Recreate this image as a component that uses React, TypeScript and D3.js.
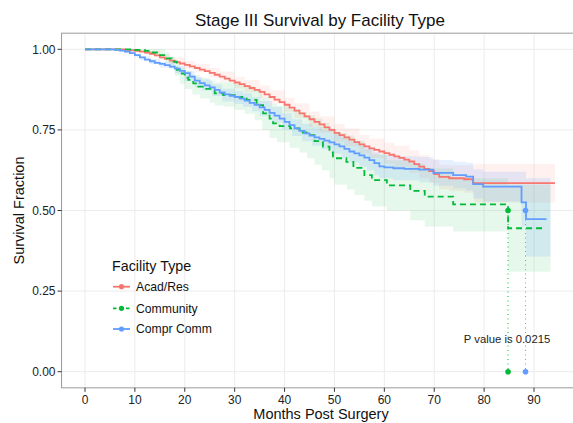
import React from "react";
import * as d3 from "d3";

const title = "Stage III Survival by Facility Type";
const xLabel = "Months Post Surgery";
const yLabel = "Survival Fraction";
const legendTitle = "Facility Type";
const groups = ["Acad/Res", "Community", "Compr Comm"];
const colors = ["#F8766D", "#00BA38", "#619CFF"];
const xTicks = [0, 10, 20, 30, 40, 50, 60, 70, 80, 90];
const yTicks = [0, 0.25, 0.5, 0.75, 1];
const pValueText = "P value is 0.0215";

// Acad/Res survival curve
const acadTime = [0, 6, 8, 9, 10, 11, 12, 13, 14, 15, 16, 17, 18, 19, 20, 21, 22, 23, 24, 25, 26, 27, 28, 29, 30, 31, 32, 33, 34, 35, 36, 37, 38, 39, 40, 41, 42, 43, 44, 45, 46, 47, 48, 49, 50, 51, 52, 53, 54, 55, 56, 57, 58, 59, 60, 61, 62, 63, 64, 65, 66, 67, 68, 69, 70, 71, 73, 76, 77.8];
const acadSurv = [1, 1, 0.998, 0.997, 0.995, 0.993, 0.99, 0.986, 0.981, 0.975, 0.97, 0.965, 0.96, 0.956, 0.952, 0.947, 0.942, 0.937, 0.932, 0.927, 0.921, 0.915, 0.909, 0.903, 0.897, 0.892, 0.886, 0.88, 0.874, 0.868, 0.86, 0.852, 0.844, 0.836, 0.828, 0.819, 0.81, 0.801, 0.792, 0.783, 0.775, 0.767, 0.758, 0.75, 0.741, 0.734, 0.727, 0.72, 0.712, 0.705, 0.699, 0.693, 0.688, 0.683, 0.678, 0.673, 0.668, 0.663, 0.658, 0.652, 0.644, 0.636, 0.629, 0.622, 0.613, 0.604, 0.6, 0.597, 0.585];
const acadEnd = 94.2;
// Acad/Res confidence band
const acadBandTime = [0, 5, 8, 10, 12, 15, 17, 20, 22, 25, 27, 30, 32, 35, 37, 40, 42, 45, 47, 50, 52, 55, 57, 60, 62, 65, 67, 69, 71, 73, 76, 78];
const acadLo = [1, 1, 0.996, 0.992, 0.985, 0.967, 0.955, 0.94, 0.929, 0.912, 0.899, 0.879, 0.867, 0.848, 0.831, 0.806, 0.787, 0.759, 0.742, 0.714, 0.699, 0.676, 0.663, 0.646, 0.635, 0.617, 0.6, 0.585, 0.566, 0.56, 0.555, 0.525];
const acadHi = [1, 1, 1, 0.998, 0.995, 0.983, 0.975, 0.964, 0.955, 0.942, 0.931, 0.915, 0.905, 0.888, 0.873, 0.85, 0.833, 0.807, 0.792, 0.768, 0.755, 0.734, 0.723, 0.71, 0.701, 0.687, 0.672, 0.66, 0.642, 0.64, 0.64, 0.645];
const acadBandEnd = 94.2;

// Community survival curve
const commTime = [0, 8, 10, 12, 13.4, 15, 16.4, 17.4, 18.4, 19, 20, 20.7, 21.7, 22.7, 24, 26, 27.7, 30, 32.4, 34.4, 35.7, 37, 37.7, 39, 41.1, 43, 44.4, 46, 47.7, 49, 49.7, 52.4, 53.8, 56, 57.5, 60.5, 65.2, 68.1, 73.8, 84.8];
const commSurv = [1, 1, 0.998, 0.995, 0.99, 0.982, 0.972, 0.962, 0.936, 0.925, 0.912, 0.905, 0.894, 0.884, 0.877, 0.863, 0.858, 0.852, 0.843, 0.827, 0.801, 0.785, 0.77, 0.762, 0.755, 0.742, 0.734, 0.715, 0.698, 0.68, 0.662, 0.651, 0.632, 0.61, 0.594, 0.578, 0.561, 0.543, 0.519, 0.445];
const commEnd = 91.8;
// Community confidence band
const commBandTime = [0, 8, 10, 12, 14, 16, 17, 18, 19, 20, 21.5, 23, 25, 26, 28, 30, 32, 34, 35.5, 37, 38.5, 41, 43, 44.5, 46, 47.5, 49, 50, 52.5, 54, 56, 57.5, 60.5, 65.2, 68.1, 73.8, 84.8];
const commLo = [1, 1, 0.993, 0.987, 0.978, 0.958, 0.94, 0.918, 0.893, 0.877, 0.86, 0.848, 0.834, 0.826, 0.822, 0.812, 0.8, 0.78, 0.75, 0.725, 0.712, 0.695, 0.68, 0.662, 0.642, 0.625, 0.6, 0.58, 0.565, 0.548, 0.53, 0.513, 0.5, 0.47, 0.45, 0.435, 0.31];
const commHi = [1, 1, 1, 1, 1, 0.99, 0.978, 0.962, 0.943, 0.933, 0.92, 0.912, 0.902, 0.898, 0.898, 0.892, 0.886, 0.872, 0.85, 0.831, 0.824, 0.815, 0.804, 0.795, 0.785, 0.772, 0.755, 0.74, 0.733, 0.716, 0.69, 0.675, 0.656, 0.645, 0.63, 0.6, 0.58];
const commBandEnd = 93.3;

// Compr Comm survival curve
const comprTime = [0, 6, 7, 8, 9, 10, 11, 12, 13, 14, 15, 16, 17, 18, 19, 20, 21, 22, 23, 24, 25, 26, 27, 28, 29, 30, 31, 32, 33, 34, 35, 36, 37, 38, 39, 40, 41, 42, 43, 44, 45, 46, 47, 48, 49, 50, 51, 52, 53, 54, 55, 56, 57, 58, 59, 60, 61.8, 64, 67, 69.8, 73.8, 76.4, 77.8, 79.8, 87.5, 88.4];
const comprSurv = [1, 0.998, 0.996, 0.993, 0.988, 0.982, 0.975, 0.968, 0.963, 0.958, 0.955, 0.951, 0.946, 0.94, 0.933, 0.926, 0.915, 0.903, 0.895, 0.888, 0.882, 0.874, 0.866, 0.86, 0.856, 0.852, 0.847, 0.841, 0.834, 0.828, 0.82, 0.812, 0.803, 0.794, 0.785, 0.775, 0.765, 0.755, 0.747, 0.739, 0.732, 0.727, 0.722, 0.717, 0.711, 0.705, 0.699, 0.691, 0.683, 0.677, 0.671, 0.664, 0.656, 0.647, 0.637, 0.634, 0.631, 0.629, 0.627, 0.617, 0.61, 0.605, 0.582, 0.574, 0.525, 0.473];
const comprEnd = 92.5;
// Compr Comm confidence band
const comprBandTime = [0, 6, 8, 10, 11, 13, 15, 18, 20, 22, 23.5, 25.5, 27.5, 30, 31.7, 33.5, 35, 37.5, 39.5, 41.5, 43.5, 45.5, 47.5, 49.5, 51.5, 53, 55, 56.5, 58, 59, 61.8, 67, 69.8, 73.8, 76.4, 77.8, 79.8, 87.5, 88.4];
const comprLo = [1, 0.996, 0.989, 0.975, 0.966, 0.954, 0.943, 0.925, 0.902, 0.882, 0.872, 0.855, 0.838, 0.83, 0.822, 0.808, 0.794, 0.773, 0.751, 0.731, 0.715, 0.701, 0.69, 0.677, 0.663, 0.649, 0.636, 0.625, 0.609, 0.6, 0.594, 0.588, 0.577, 0.569, 0.562, 0.537, 0.528, 0.45, 0.357];
const comprHi = [1, 1, 0.997, 0.985, 0.978, 0.97, 0.961, 0.949, 0.932, 0.914, 0.906, 0.891, 0.878, 0.87, 0.864, 0.852, 0.84, 0.821, 0.801, 0.783, 0.769, 0.759, 0.75, 0.739, 0.727, 0.715, 0.704, 0.695, 0.681, 0.672, 0.668, 0.666, 0.657, 0.651, 0.648, 0.627, 0.62, 0.62, 0.6];
const comprBandEnd = 93.3;

const medianTimes = [84.8, 88.3];
const medianGroup = [1, 2];

type LPt = { t: number; s: number };
type BPt = { t: number; lo: number; hi: number };

function buildLine(time: number[], surv: number[], end: number): LPt[] {
  const pts = time.map((t, i) => ({ t, s: surv[i] }));
  pts.push({ t: end, s: surv[surv.length - 1] });
  return pts;
}
function buildBand(time: number[], lo: number[], hi: number[], end: number): BPt[] {
  const pts = time.map((t, i) => ({ t, lo: lo[i], hi: hi[i] }));
  pts.push({ t: end, lo: lo[lo.length - 1], hi: hi[hi.length - 1] });
  return pts;
}

export default function App() {
  const W = 573;
  const H = 423;
  const x = d3.scaleLinear().domain([0, 90]).range([85, 534]);
  const y = d3.scaleLinear().domain([0, 1]).range([371.7, 49.3]);
  const pl = x(-4.7);
  const pr = x(98.9);
  const pt = y(1.05);
  const pb = y(-0.05);

  const series = [
    { line: buildLine(acadTime, acadSurv, acadEnd), band: buildBand(acadBandTime, acadLo, acadHi, acadBandEnd) },
    { line: buildLine(commTime, commSurv, commEnd), band: buildBand(commBandTime, commLo, commHi, commBandEnd) },
    { line: buildLine(comprTime, comprSurv, comprEnd), band: buildBand(comprBandTime, comprLo, comprHi, comprBandEnd) },
  ];

  const line = d3
    .line<LPt>()
    .x((d) => x(d.t))
    .y((d) => y(d.s))
    .curve(d3.curveStepAfter);
  const area = d3
    .area<BPt>()
    .x((d) => x(d.t))
    .y0((d) => y(d.lo))
    .y1((d) => y(d.hi))
    .curve(d3.curveStepAfter);

  const font = "'Liberation Sans', Arial, Helvetica, sans-serif";
  const bandOpacity = [0.1, 0.1, 0.15];
  const dash = [null, "6,4", null];

  return (
    <svg width={W} height={H} style={{ position: "fixed", left: 0, top: 0, background: "#fff" }} fontFamily={font}>
      <rect x={0} y={0} width={W} height={H} fill="#fff" />
      <text x={320} y={26} textAnchor="middle" fontSize={17} fill="#111">
        {title}
      </text>
      {/* grid */}
      <g stroke="#ececec" strokeWidth={1}>
        {xTicks.map((t) => (
          <line key={"gx" + t} x1={x(t)} x2={x(t)} y1={pt} y2={pb} />
        ))}
        {yTicks.map((t) => (
          <line key={"gy" + t} x1={pl} x2={pr} y1={y(t)} y2={y(t)} />
        ))}
      </g>
      {/* bands */}
      {series.map((s, i) => (
        <path key={"b" + i} d={area(s.band) || ""} fill={colors[i]} opacity={bandOpacity[i]} />
      ))}
      {/* median lines */}
      {medianTimes.map((m, i) => (
        <line key={"m" + i} x1={x(m)} x2={x(m)} y1={y(0.5)} y2={y(0)} stroke={colors[medianGroup[i]]} strokeWidth={1} strokeDasharray="1,3.5" />
      ))}
      {/* lines */}
      {series.map((s, i) => (
        <path
          key={"l" + i}
          d={line(s.line) || ""}
          fill="none"
          stroke={colors[i]}
          strokeWidth={1.8}
          strokeDasharray={dash[i] || undefined}
        />
      ))}
      {medianTimes.map((m, i) => (
        <g key={"mp" + i} fill={colors[medianGroup[i]]}>
          <circle cx={x(m)} cy={y(0.5)} r={2.8} />
          <circle cx={x(m)} cy={y(0)} r={2.8} />
        </g>
      ))}
      {/* panel border */}
      <rect x={pl} y={pt} width={pr - pl} height={pb - pt} fill="none" stroke="#9a9a9a" strokeWidth={1} />
      {/* axes */}
      <g stroke="#333" strokeWidth={1}>
        {xTicks.map((t) => (
          <line key={"tx" + t} x1={x(t)} x2={x(t)} y1={pb} y2={pb + 4} />
        ))}
        {yTicks.map((t) => (
          <line key={"ty" + t} x1={pl - 4} x2={pl} y1={y(t)} y2={y(t)} />
        ))}
      </g>
      <g fontSize={12} fill="#222">
        {xTicks.map((t) => (
          <text key={"lx" + t} x={x(t)} y={404} textAnchor="middle">
            {t}
          </text>
        ))}
        {yTicks.map((t) => (
          <text key={"ly" + t} x={pl - 6} y={y(t) + 4.3} textAnchor="end">
            {d3.format(".2f")(t)}
          </text>
        ))}
      </g>
      <text x={321} y={419} textAnchor="middle" fontSize={14.5} fill="#111">
        {xLabel}
      </text>
      <text transform={`translate(24,${(pt + pb) / 2}) rotate(-90)`} textAnchor="middle" fontSize={14.5} fill="#111">
        {yLabel}
      </text>
      {/* legend */}
      <text x={112} y={271} fontSize={14.3} fill="#111">
        {legendTitle}
      </text>
      {groups.map((g, i) => {
        const cy = [286.7, 308.3, 329][i];
        return (
          <g key={"lg" + i}>
            <line x1={113} x2={130} y1={cy} y2={cy} stroke={colors[i]} strokeWidth={1.8} strokeDasharray={i === 1 ? "3.5,3" : undefined} />
            <circle cx={121.5} cy={cy} r={2.6} fill={colors[i]} />
            <text x={136} y={cy + 4.3} fontSize={12.2} fill="#111">
              {g}
            </text>
          </g>
        );
      })}
      <text x={507} y={343} textAnchor="middle" fontSize={11.3} fill="#222">
        {pValueText}
      </text>
    </svg>
  );
}
